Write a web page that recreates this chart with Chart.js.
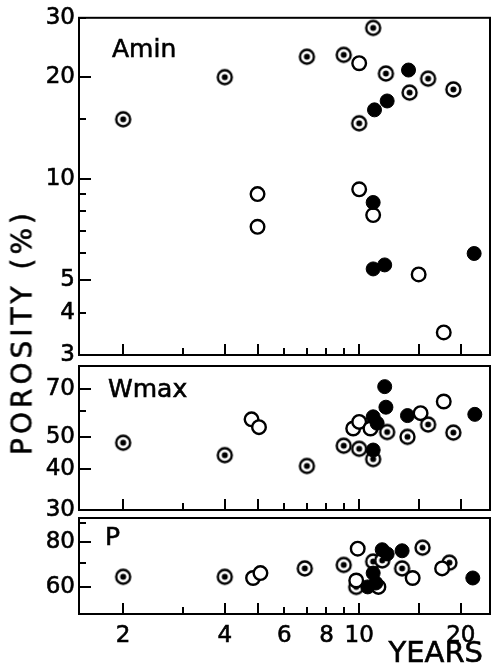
<!DOCTYPE html>
<html>
<head>
<meta charset="utf-8">
<script src="https://cdn.jsdelivr.net/npm/chart.js"></script>
<style>
  html, body { margin: 0; padding: 0; background: #fff; }
  #wrap { position: relative; width: 492px; height: 669px; overflow: hidden; }
  #wrap canvas { position: absolute; left: 0; top: 0; }
  #ytitle {
    position: absolute; left: 22px; top: 332px;
    transform: translate(-50%, -50%) rotate(-90deg);
    font: 28px "DejaVu Sans"; letter-spacing: 4px; white-space: nowrap; color: #000;
    -webkit-text-stroke: 0.6px #000;
  }
  #xtitle { position: absolute; right: 9px; top: 635px; font: 29px "DejaVu Sans"; color: #000; -webkit-text-stroke: 0.6px #000; }
</style>
</head>
<body>
<div id="wrap">
  <canvas id="aminChart" width="492" height="669"></canvas>
  <canvas id="wmaxChart" width="492" height="669"></canvas>
  <canvas id="pChart" width="492" height="669"></canvas>
  <div id="ytitle">POROSITY (%)</div>
  <div id="xtitle">YEARS</div>
</div>
<script>
// x axis (years, log)
const xTicks = [2, 3, 4, 5, 6, 7, 8, 9, 10, 15, 20];
const xLabels = [2, 4, 6, 8, 10, 20];

// Amin panel: [years, porosity %]
const aminOpen = [[10, 22], [5, 9], [5, 7.2], [10, 9.3], [11, 7.8], [15, 5.2], [17.8, 3.5]];
const aminDot = [[2, 15], [4, 20], [7, 23], [9, 23.3], [11, 28], [12, 20.5], [16, 19.8], [19, 18.4], [14.1, 18], [10, 14.6]];
const aminFull = [[14, 21], [12.1, 17], [11.1, 16], [11, 8.5], [11, 5.4], [11.9, 5.55], [21.9, 6]];
const aminTicks = [3, 4, 5, 6, 7, 8, 9, 10, 15, 20, 30];
const aminLabels = [3, 4, 5, 10, 20, 30];

// Wmax panel
const wmaxOpen = [[4.8, 56.5], [5.05, 53.5], [9.6, 53], [10, 55.5], [10.8, 53], [15.2, 59], [17.8, 64]];
const wmaxDot = [[2, 48], [4, 44], [7, 40.8], [9, 47], [10, 46], [12.1, 51.7], [11, 42.8], [13.9, 50], [16, 54.5], [19, 51.5]];
const wmaxFull = [[11, 57.5], [11.3, 55], [11, 45.6], [11.9, 71], [12, 61.5], [13.9, 58], [22, 58.5]];
const wmaxTicks = [30, 40, 50, 60, 70];
const wmaxLabels = [30, 40, 50, 70];

// P panel
const pOpen = [[4.85, 63.5], [5.1, 65.5], [9.9, 76.5], [9.8, 62.5], [11.4, 60], [14.4, 63.5], [17.6, 67.5]];
const pDot = [[2, 64], [4, 64], [6.9, 67.5], [9, 69], [11, 70.5], [11.7, 71], [9.8, 60], [13.4, 67.5], [15.4, 77], [18.5, 70]];
const pFull = [[11.7, 76], [12.1, 74], [11, 65.5], [10.6, 60], [11.2, 61.5], [13.4, 75.5], [21.7, 63.5]];
const pTicks = [60, 70, 80, 90];
const pLabels = [60, 80];

// circle with a centre dot
function dotMarker() {
  const c = document.createElement('canvas');
  c.width = 19; c.height = 19;
  const g = c.getContext('2d');
  g.fillStyle = '#fff';
  g.beginPath(); g.arc(9.5, 9.5, 7, 0, Math.PI * 2); g.fill();
  g.strokeStyle = '#000'; g.lineWidth = 2.4;
  g.beginPath(); g.arc(9.5, 9.5, 7, 0, Math.PI * 2); g.stroke();
  g.fillStyle = '#000';
  g.beginPath(); g.arc(9.5, 9.5, 3, 0, Math.PI * 2); g.fill();
  return c;
}
const bullseye = dotMarker();

const toPts = arr => arr.map(p => ({ x: p[0], y: p[1] }));

// frame, inward tick marks and panel name
const panelFrame = {
  id: 'panelFrame',
  beforeDatasetsDraw(chart, args, opts) {
    const { ctx, chartArea: a, scales } = chart;
    ctx.save();
    ctx.strokeStyle = '#000';
    ctx.lineWidth = 2;
    ctx.beginPath();
    xTicks.forEach(v => {
      const px = Math.round(scales.x.getPixelForValue(v));
      const len = opts.xMajor.includes(v) ? 11 : 7;
      ctx.moveTo(px, a.bottom);
      ctx.lineTo(px, a.bottom - len);
    });
    opts.yTicks.forEach(v => {
      const py = Math.round(scales.y.getPixelForValue(v));
      const len = opts.yMajor.includes(v) ? 12 : 7;
      ctx.moveTo(a.left, py);
      ctx.lineTo(a.left + len, py);
    });
    ctx.stroke();
    ctx.strokeRect(a.left, a.top, a.right - a.left, a.bottom - a.top);
    ctx.fillStyle = '#000';
    ctx.font = '25px "DejaVu Sans"';
    ctx.textBaseline = 'alphabetic';
    ctx.lineWidth = 0.6;
    ctx.fillText(opts.label, a.left + opts.labelDx, a.top + opts.labelDy);
    ctx.strokeText(opts.label, a.left + opts.labelDx, a.top + opts.labelDy);
    ctx.restore();
  }
};

function makePanel(id, cfg) {
  const ctx = document.getElementById(id).getContext('2d');
  return new Chart(ctx, {
    type: 'scatter',
    data: {
      datasets: [
        { data: toPts(cfg.full), pointStyle: 'circle', pointRadius: 7, backgroundColor: '#000', borderColor: '#000', borderWidth: 1 },
        { data: toPts(cfg.open), pointStyle: 'circle', pointRadius: 6.8, backgroundColor: '#fff', borderColor: '#000', borderWidth: 2.4 },
        { data: toPts(cfg.dot), pointStyle: bullseye, pointRadius: 7 }
      ]
    },
    options: {
      responsive: false,
      animation: false,
      devicePixelRatio: 1,
      layout: { autoPadding: false, padding: { top: cfg.top, right: 2, bottom: 0, left: 0 } },
      plugins: {
        legend: { display: false },
        tooltip: { enabled: false },
        panelFrame: {
          label: cfg.label, labelDx: cfg.labelDx, labelDy: cfg.labelDy,
          yTicks: cfg.yTicks, yMajor: cfg.yMajor, xMajor: [2, 4, 5, 10, 15, 20]
        }
      },
      scales: {
        x: {
          type: 'logarithmic',
          min: 1.48, max: 24.4,
          grid: { display: false, drawTicks: false },
          border: { display: false },
          afterFit: s => { s.height = 669 - cfg.bottom; },
          afterBuildTicks: s => { s.ticks = xTicks.map(v => ({ value: v })); },
          ticks: {
            display: cfg.showX,
            autoSkip: false, maxRotation: 0, padding: 8,
            color: '#000', textStrokeColor: '#000', textStrokeWidth: 0.6,
            font: { family: 'DejaVu Sans', size: 23 },
            callback: v => xLabels.includes(v) ? String(v) : ''
          }
        },
        y: {
          type: 'logarithmic',
          min: cfg.yMin, max: cfg.yMax,
          grid: { display: false, drawTicks: false },
          border: { display: false },
          afterFit: s => { s.width = 79; },
          afterBuildTicks: s => { s.ticks = cfg.yTicks.map(v => ({ value: v })); },
          ticks: {
            autoSkip: false, padding: 4,
            color: '#000', textStrokeColor: '#000', textStrokeWidth: 0.6,
            font: { family: 'DejaVu Sans', size: 23 },
            callback: v => cfg.yLabels.includes(v) ? String(v) : ''
          }
        }
      }
    },
    plugins: [panelFrame]
  });
}

makePanel('aminChart', {
  open: aminOpen, dot: aminDot, full: aminFull,
  top: 16, bottom: 355, yMin: 3, yMax: 30,
  yTicks: aminTicks, yLabels: aminLabels, yMajor: [5, 10, 20],
  label: 'Amin', labelDx: 33, labelDy: 39, showX: false
});
makePanel('wmaxChart', {
  open: wmaxOpen, dot: wmaxDot, full: wmaxFull,
  top: 366, bottom: 510, yMin: 30, yMax: 82,
  yTicks: wmaxTicks, yLabels: wmaxLabels, yMajor: [40, 50, 70],
  label: 'Wmax', labelDx: 29, labelDy: 31, showX: false
});
makePanel('pChart', {
  open: pOpen, dot: pDot, full: pFull,
  top: 518, bottom: 614, yMin: 50.5, yMax: 93,
  yTicks: pTicks, yLabels: pLabels, yMajor: [60, 80],
  label: 'P', labelDx: 26, labelDy: 27, showX: true
});
</script>
</body>
</html>
